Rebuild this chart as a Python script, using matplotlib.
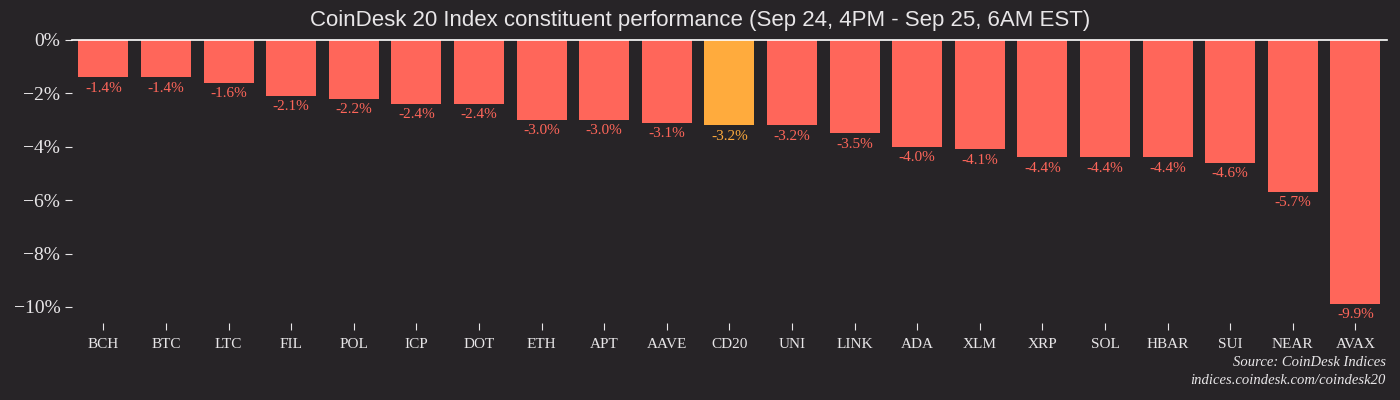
import matplotlib
matplotlib.use("Agg")
import matplotlib.pyplot as plt
import numpy as np

symbols = ["BCH", "BTC", "LTC", "FIL", "POL", "ICP", "DOT", "ETH", "APT", "AAVE",
           "CD20", "UNI", "LINK", "ADA", "XLM", "XRP", "SOL", "HBAR", "SUI", "NEAR", "AVAX"]
changes = [-1.4, -1.4, -1.6, -2.1, -2.2, -2.4, -2.4, -3.0, -3.0, -3.1,
           -3.2, -3.2, -3.5, -4.0, -4.1, -4.4, -4.4, -4.4, -4.6, -5.7, -9.9]
yticks = [0, -2, -4, -6, -8, -10]

BG = "#272427"
RED = "#ff665a"
ORANGE = "#ffab3d"
FG = "#e8e6e8"
SERIF = ["Liberation Serif", "DejaVu Serif"]

fig = plt.figure(figsize=(14, 4), dpi=100, facecolor=BG)
ax = fig.add_axes([0.0515, 0.1925, 0.939, 0.7075], facecolor=BG)

x = np.arange(len(symbols))
colors = [ORANGE if s == "CD20" else RED for s in symbols]
ax.bar(x, changes, width=0.8, color=colors, zorder=2)

# value labels just under each bar
for xi, v, c in zip(x, changes, colors):
    ax.annotate(f"{v:.1f}%", (xi, v), xytext=(0, -3), textcoords="offset points",
                ha="center", va="top", color=c, fontsize=11, family=SERIF)

ax.set_xlim(-0.5, len(symbols) - 0.5)
ax.set_ylim(-10.6, 0)
ax.set_yticks(yticks)
ax.set_yticklabels([f"\u2212{abs(t)}%" if t else "0%" for t in yticks],
                   family=SERIF, fontsize=14, color=FG)
ax.set_xticks(x)
ax.set_xticklabels(symbols, family=SERIF, fontsize=11, color=FG)
ax.tick_params(axis="both", colors=FG, length=5, width=0.8)
ax.tick_params(axis="x", pad=6)

for side in ["left", "right", "bottom"]:
    ax.spines[side].set_visible(False)
ax.spines["top"].set_color("white")
ax.spines["top"].set_linewidth(1.2)

fig.text(0.5, 0.948, "CoinDesk 20 Index constituent performance (Sep 24, 4PM - Sep 25, 6AM EST)",
         ha="center", va="center", color=FG, fontsize=16, family=["Liberation Sans", "DejaVu Sans"])
fig.text(0.99, 0.095, "Source: CoinDesk Indices", ha="right", va="center",
         color=FG, fontsize=10.5, style="italic", family=SERIF)
fig.text(0.99, 0.05, "indices.coindesk.com/coindesk20", ha="right", va="center",
         color=FG, fontsize=10.5, style="italic", family=SERIF)

fig.savefig("out.png", dpi=100, facecolor=BG)
